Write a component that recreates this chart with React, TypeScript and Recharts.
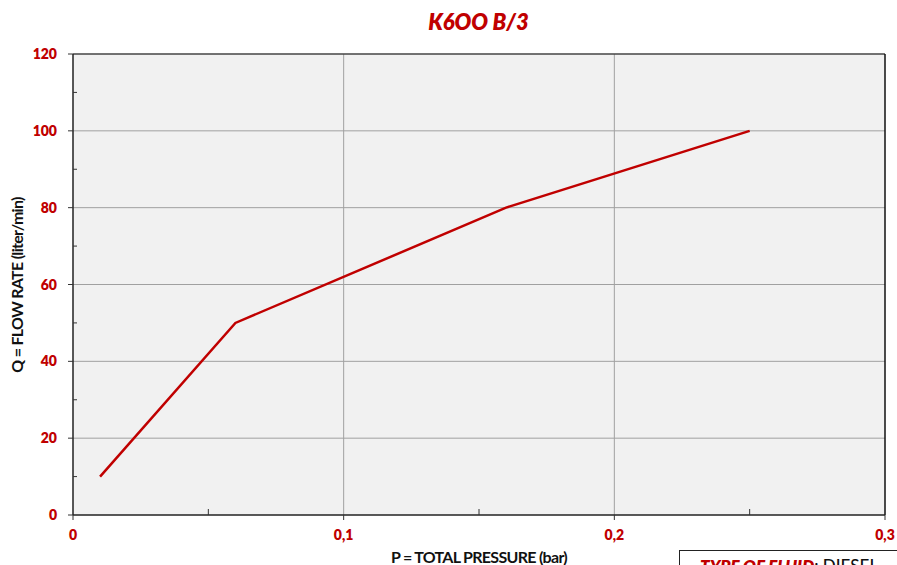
import React from "react";
import {
  LineChart,
  Line,
  XAxis,
  YAxis,
  CartesianGrid,
  ReferenceLine,
} from "recharts";

const pressure = [0.01, 0.06, 0.16, 0.25];
const flow = [10, 50, 80, 100];
const xTicks = [0, 0.05, 0.1, 0.15, 0.2, 0.25, 0.3];
const xMajor = [0, 0.1, 0.2, 0.3];
const yTicks = [0, 10, 20, 30, 40, 50, 60, 70, 80, 90, 100, 110, 120];
const yMajor = [0, 20, 40, 60, 80, 100, 120];
const xGrid = [0.1, 0.2];
const yGrid = [20, 40, 60, 80, 100];

const data = pressure.map((p, i) => ({ p, q: flow[i] }));

const RED = "#c00000";
const FONT = "Lato, 'Open Sans', sans-serif";

const fmtX = (v: number) => (v === 0 ? "0" : v.toFixed(1).replace(".", ","));

const XTick = (props: any) => {
  const { x, y, payload } = props;
  const v = payload.value;
  const major = xMajor.some((m) => Math.abs(m - v) < 1e-9);
  if (!major) {
    return <line x1={x} x2={x} y1={y - 6} y2={y} stroke="#333" strokeWidth={1} />;
  }
  return (
    <g>
      <line x1={x} x2={x} y1={y} y2={y + 5} stroke="#333" strokeWidth={1} />
      <text
        x={x}
        y={y + 25}
        textAnchor="middle"
        fill={RED}
        fontFamily={FONT}
        fontWeight={800}
        fontSize={14}
      >
        {fmtX(v)}
      </text>
    </g>
  );
};

const YTick = (props: any) => {
  const { x, y, payload } = props;
  const v = payload.value;
  const major = yMajor.includes(v);
  if (!major) {
    return <line x1={x} x2={x + 4} y1={y} y2={y} stroke="#333" strokeWidth={1} />;
  }
  return (
    <g>
      <line x1={x - 5} x2={x} y1={y} y2={y} stroke="#333" strokeWidth={1} />
      <text
        x={x - 16}
        y={y + 5}
        textAnchor="end"
        fill={RED}
        fontFamily={FONT}
        fontWeight={800}
        fontSize={14}
      >
        {v}
      </text>
    </g>
  );
};

const YLabel = () => (
  <text
    transform="translate(23, 285) rotate(-90)"
    textAnchor="middle"
    fontFamily={FONT}
    fontWeight={700}
    fontSize={16}
    letterSpacing={-0.7}
    fill="#111"
  >
    Q = FLOW RATE (liter/min)
  </text>
);

const XLabel = () => (
  <text
    x={479}
    y={563}
    textAnchor="middle"
    fontFamily={FONT}
    fontWeight={700}
    fontSize={16}
    letterSpacing={-0.7}
    fill="#111"
  >
    P = TOTAL PRESSURE (bar)
  </text>
);

export default function App() {
  return (
    <div
      style={{
        position: "absolute",
        left: 0,
        top: 0,
        width: 897,
        height: 565,
        overflow: "hidden",
        background: "#fff",
      }}
    >
      <div
        style={{
          position: "absolute",
          left: 0,
          top: 8,
          width: 957,
          textAlign: "center",
          color: RED,
          fontFamily: FONT,
          fontWeight: 800,
          fontStyle: "italic",
          fontSize: 22,
        }}
      >
        K6OO B/3
      </div>
      <LineChart
        width={897}
        height={565}
        data={data}
        margin={{ top: 54, right: 12, bottom: 0, left: 0 }}
      >
        <CartesianGrid
          fill="#f1f1f1"
          stroke="#a0a0a0"
          horizontalValues={yGrid}
          verticalValues={xGrid}
        />
        <XAxis
          dataKey="p"
          type="number"
          domain={[0, 0.3]}
          ticks={xTicks}
          interval={0}
          tickSize={0}
          tickMargin={0}
          tick={<XTick />}
          axisLine={{ stroke: "#222", strokeWidth: 1.5 }}
          height={50}
        />
        <YAxis
          dataKey="q"
          type="number"
          domain={[0, 120]}
          ticks={yTicks}
          interval={0}
          tickSize={0}
          tickMargin={0}
          tick={<YTick />}
          axisLine={{ stroke: "#222", strokeWidth: 1.5 }}
          width={73}
        />
        <ReferenceLine y={120} stroke="#444" strokeWidth={1.5} />
        <ReferenceLine x={0.3} stroke="#111" strokeWidth={1.5} />
        <Line
          type="linear"
          dataKey="q"
          stroke={RED}
          strokeWidth={2.5}
          dot={false}
          isAnimationActive={false}
        />
        <YLabel />
        <XLabel />
      </LineChart>
      <div
        style={{
          position: "absolute",
          left: 679,
          top: 550,
          width: 240,
          height: 40,
          border: "1.5px solid #222",
          boxSizing: "border-box",
          background: "#fff",
          fontFamily: FONT,
          fontSize: 17,
          paddingLeft: 20,
          paddingTop: 4,
          whiteSpace: "nowrap",
        }}
      >
        <span style={{ color: RED, fontWeight: 800, fontStyle: "italic" }}>
          TYPE OF FLUID
        </span>
        <span style={{ color: "#111", fontWeight: 500 }}>: DIESEL</span>
      </div>
    </div>
  );
}
